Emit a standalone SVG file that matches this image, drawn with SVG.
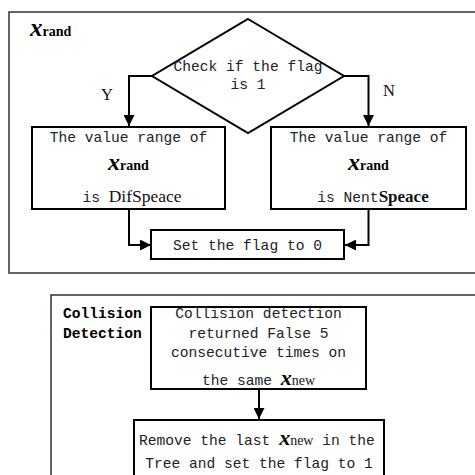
<svg xmlns="http://www.w3.org/2000/svg" width="475" height="475" viewBox="0 0 475 475">
<style>
.frame{fill:none;stroke:#333;stroke-width:1.5}
.box{fill:#fff;stroke:#000;stroke-width:2}
.con{fill:none;stroke:#000;stroke-width:2}
.mono{font-family:"Liberation Mono",monospace;font-size:14.6px;fill:#222}
.monob{font-family:"Liberation Mono",monospace;font-size:14.6px;font-weight:bold;fill:#000}
.serif{font-family:"Liberation Serif",serif;fill:#111}
.var{font-family:"Liberation Serif",serif;font-style:italic;font-weight:bold;fill:#000}
.sub{font-family:"Liberation Serif",serif;font-weight:bold;fill:#000}
</style>
<defs>
<marker id="arr" markerUnits="userSpaceOnUse" markerWidth="11" markerHeight="11" refX="10" refY="5" orient="auto" viewBox="0 0 10 10">
<path d="M0,0 L10,5 L0,10 z" fill="#000"/>
</marker>
</defs>
<rect width="475" height="475" fill="#fff"/>
<g id="frame1">
<rect class="frame" x="9" y="12" width="475" height="261"/>
<text x="30" y="36"><tspan class="var" font-size="25">x</tspan><tspan class="sub" font-size="14">rand</tspan></text>
</g>
<g id="frame2">
<rect class="frame" x="51" y="295" width="440" height="200"/>
<text class="monob" x="63" y="318">Collision</text>
<text class="monob" x="63" y="338">Detection</text>
</g>
<g id="connectors">
<polyline class="con" points="152,76 129,76 129,126" marker-end="url(#arr)"/>
<polyline class="con" points="344,76 368.5,76 368.5,126" marker-end="url(#arr)"/>
<polyline class="con" points="129,209 129,245 151,245" marker-end="url(#arr)"/>
<polyline class="con" points="368.5,209 368.5,245 345,245" marker-end="url(#arr)"/>
<line class="con" x1="259" y1="389" x2="259" y2="419" marker-end="url(#arr)"/>
<text class="serif" font-size="16.5" x="107" y="100" text-anchor="middle">Y</text>
<text class="serif" font-size="16.5" x="389" y="96" text-anchor="middle">N</text>
</g>
<g id="decision">
<polygon class="box" points="248,19 344,76 248,133 152,76"/>
<text class="mono" x="248" y="71" text-anchor="middle">Check if the flag</text>
<text class="mono" x="248" y="89" text-anchor="middle">is 1</text>
</g>
<g id="difspace">
<rect class="box" x="32" y="127" width="193" height="82"/>
<text class="mono" x="128.5" y="142" text-anchor="middle">The value range of</text>
<text x="128.5" y="170" text-anchor="middle"><tspan class="var" font-size="24">x</tspan><tspan class="sub" font-size="14">rand</tspan></text>
<text x="132" y="202" text-anchor="middle"><tspan class="mono">is </tspan><tspan class="serif" font-size="17.5">DifSpeace</tspan></text>
</g>
<g id="nentspace">
<rect class="box" x="271" y="127" width="195" height="82"/>
<text class="mono" x="368.5" y="142" text-anchor="middle">The value range of</text>
<text x="368.5" y="170" text-anchor="middle"><tspan class="var" font-size="24">x</tspan><tspan class="sub" font-size="14">rand</tspan></text>
<text x="373" y="202" text-anchor="middle"><tspan class="mono">is Nent</tspan><tspan class="serif" font-size="17" font-weight="bold">Speace</tspan></text>
</g>
<g id="setflag0">
<rect class="box" x="151" y="230" width="193" height="29"/>
<text class="mono" x="247.5" y="250" text-anchor="middle">Set the flag to 0</text>
</g>
<g id="collision">
<rect class="box" x="151" y="307" width="215" height="82"/>
<text class="mono" x="258.5" y="318" text-anchor="middle">Collision detection</text>
<text class="mono" x="258.5" y="338" text-anchor="middle">returned False 5</text>
<text class="mono" x="258.5" y="357" text-anchor="middle">consecutive times on</text>
<text x="202" y="385"><tspan class="mono">the same </tspan><tspan class="var" font-size="22">x</tspan><tspan class="serif" font-size="14">new</tspan></text>
</g>
<g id="remove">
<rect class="box" x="134" y="420" width="250" height="60"/>
<text x="139" y="445"><tspan class="mono">Remove the last </tspan><tspan class="var" font-size="22">x</tspan><tspan class="serif" font-size="14">new</tspan><tspan class="mono"> in the</tspan></text>
<text class="mono" x="259" y="468" text-anchor="middle">Tree and set the flag to 1</text>
</g>
</svg>
